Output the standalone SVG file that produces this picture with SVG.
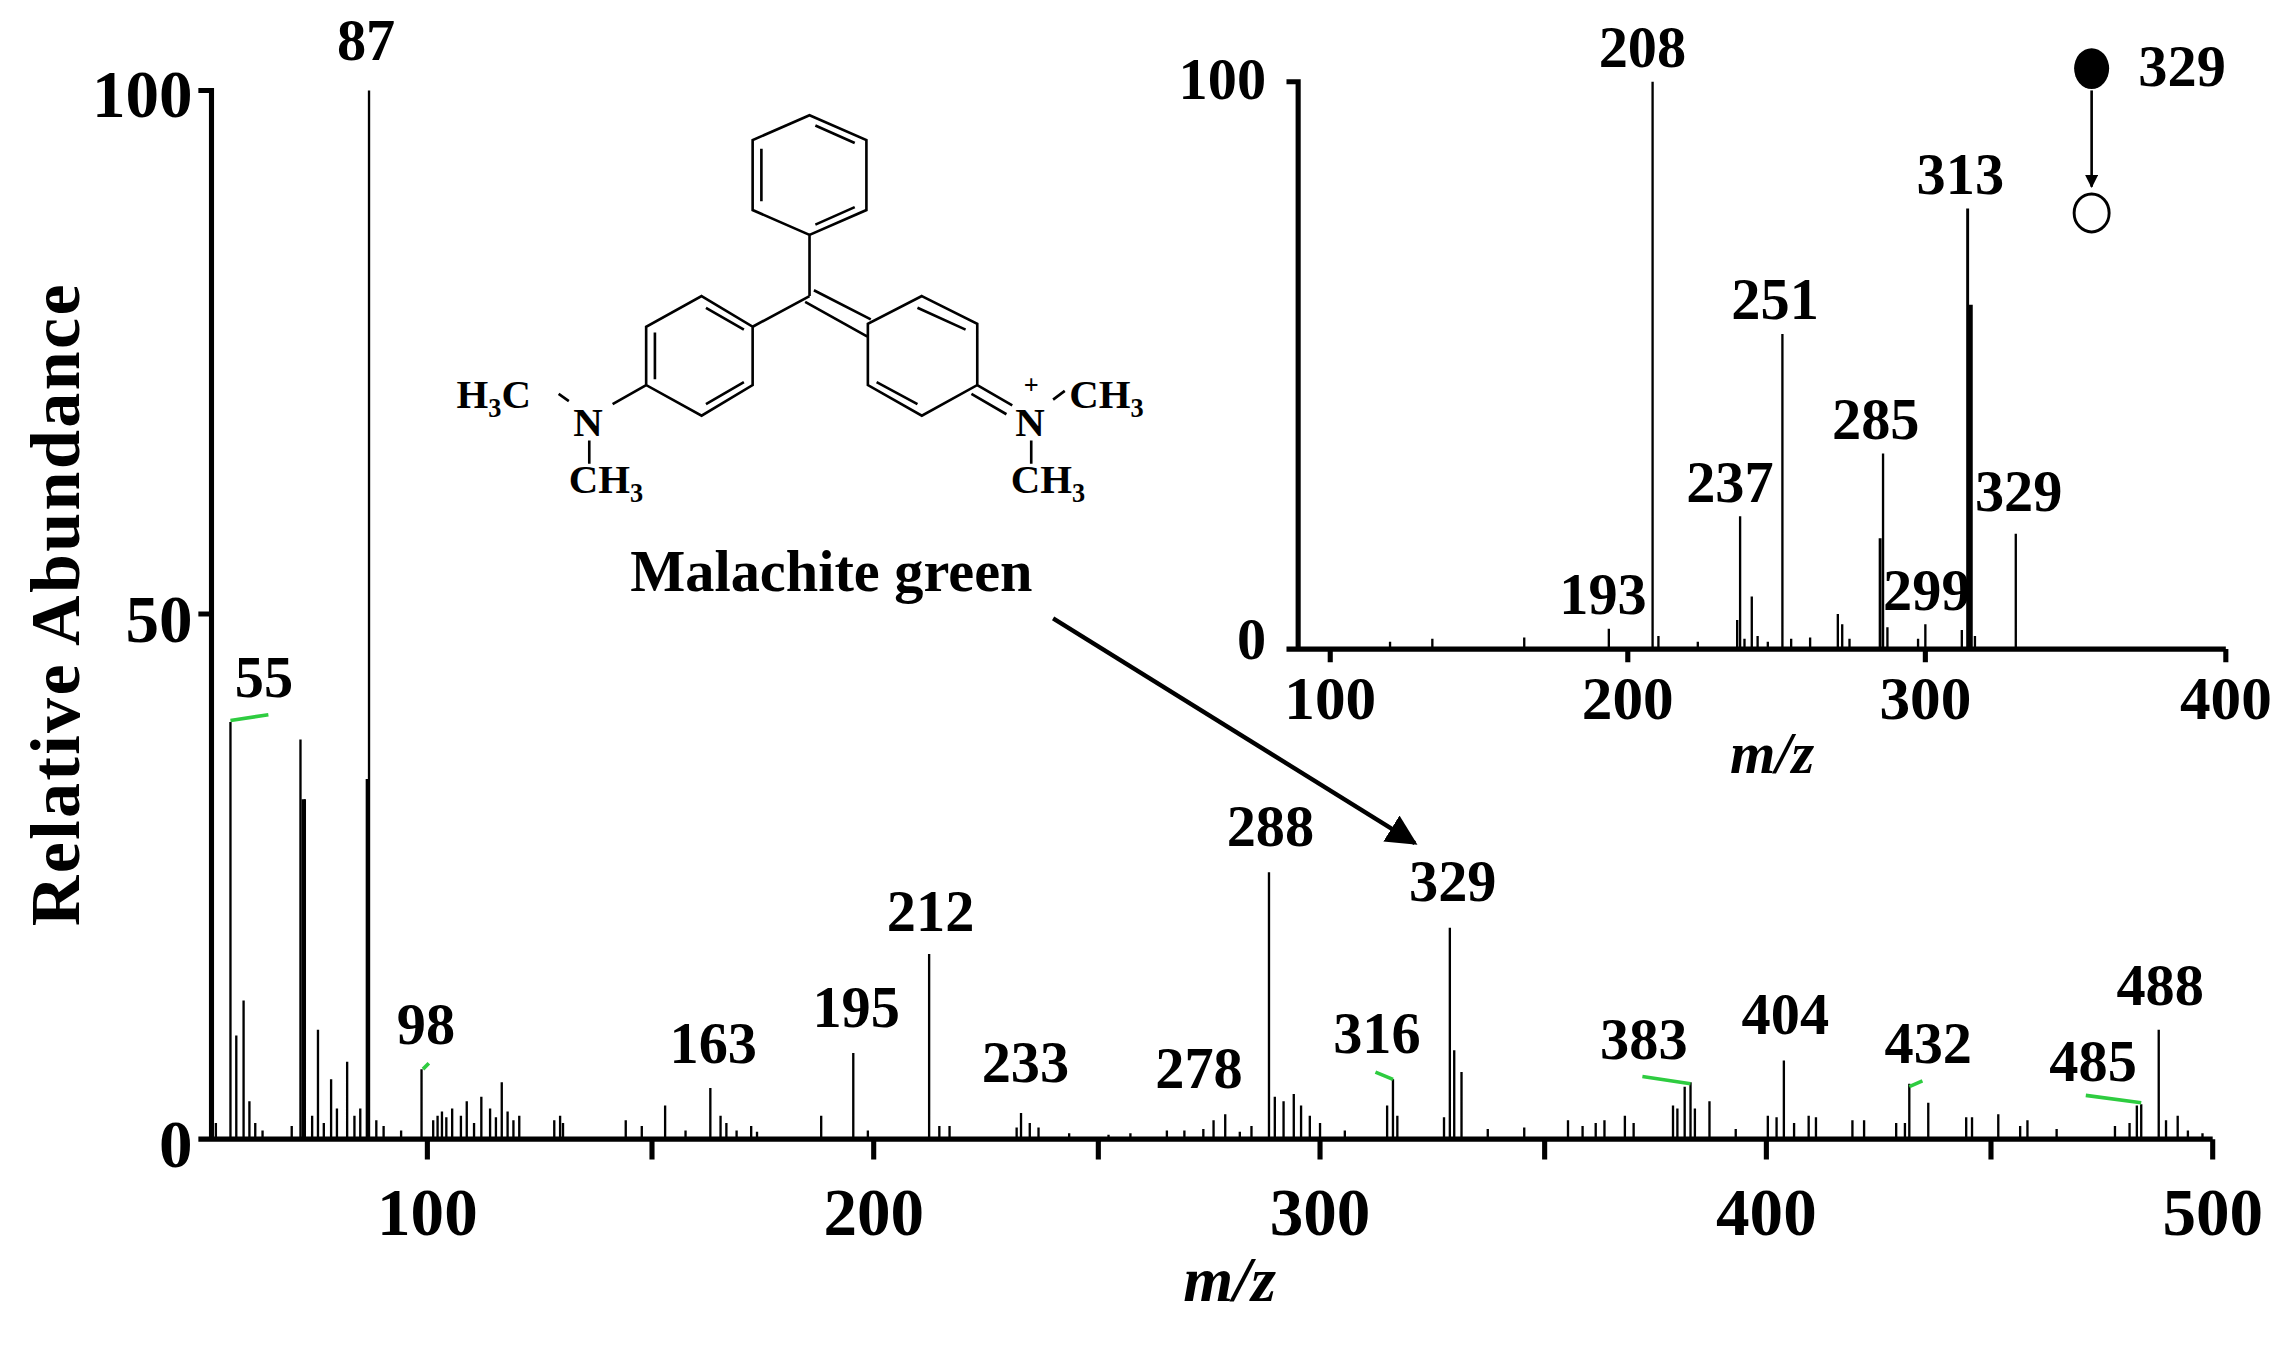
<svg xmlns="http://www.w3.org/2000/svg" width="2287" height="1348" viewBox="0 0 2287 1348">
<style>
text{font-family:"Liberation Serif","Times New Roman",serif;font-weight:bold;fill:#000}
.pk{font-size:40px;text-anchor:middle}
.tk{font-size:46px;text-anchor:middle}
.ax{fill:none;stroke:#000;stroke-width:3.5}
.bar{fill:none;stroke:#000;stroke-width:1.6}
.bond{fill:none;stroke:#000;stroke-width:1.8}
.grn{fill:none;stroke:#2ecc40;stroke-width:2.5}
.mol{font-size:28px}
.sub{font-size:18px}
</style>
<defs>
<marker id="ah" viewBox="0 0 10 10" refX="9" refY="5" markerWidth="7" markerHeight="7" orient="auto"><path d="M0,0 L10,5 L0,10 z" fill="#000"/></marker>
<marker id="ah2" viewBox="0 0 10 10" refX="9" refY="5" markerWidth="5" markerHeight="5" orient="auto"><path d="M0,0 L10,5 L0,10 z" fill="#000"/></marker>
</defs>
<rect width="2287" height="1348" fill="#fff"/>
<g transform="scale(1.4586)">
<g id="main-chart">
<path class="ax" d="M136,62 H145 V781 H1517 M136,421 H145 M136,781 H145 M293,781 V795 M447,781 V795 M599,781 V795 M753,781 V795 M905,781 V795 M1059,781 V795 M1211,781 V795 M1365,781 V795 M1517,781 V795"/>
<text x="132" y="80" style="font-size:46px;text-anchor:end">100</text>
<text x="132" y="440" style="font-size:46px;text-anchor:end">50</text>
<text x="132" y="800" style="font-size:46px;text-anchor:end">0</text>
<text class="tk" x="293" y="847">100</text>
<text class="tk" x="599" y="847">200</text>
<text class="tk" x="905" y="847">300</text>
<text class="tk" x="1211" y="847">400</text>
<text class="tk" x="1517" y="847">500</text>
<text x="843" y="892" style="font-size:44px;text-anchor:middle;font-style:italic">m/z</text>
<text transform="translate(54,415) rotate(-90)" style="font-size:48px;text-anchor:middle" textLength="440">Relative Abundance</text>
<path class="bar" d="M253,781V62 M158,781V495 M162,781V710 M167,781V686 M171,781V755 M206,781V507 M209,781V548 M218,781V706 M227,781V740 M238,781V728 M247,781V760 M289,781V733 M487,781V746 M585,781V722 M637,781V654 M700,781V763 M840,781V764 M870,781V598 M955,781V740 M994,781V636 M997,781V720 M1002,781V735 M1159,781V742 M1223,781V727 M1309,781V743 M1468,781V757 M1480,781V706
M148,781V770 M175,781V770 M180,781V775 M200,781V772 M214,781V765 M222,781V770 M231,781V760 M243,781V765 M258,781V768 M263,781V772 M275,781V775 M297,781V768 M300,781V765 M303,781V762 M306,781V766 M310,781V760 M316,781V765 M320,781V755 M325,781V770 M330,781V752 M336,781V760 M340,781V766 M344,781V742 M348,781V762 M352,781V768 M356,781V765 M380,781V768 M384,781V765 M386,781V770 M429,781V768 M440,781V772 M456,781V758 M470,781V775 M494,781V765 M498,781V770 M505,781V775 M515,781V772 M519,781V776 M563,781V765 M595,781V775 M644,781V772 M651,781V772 M697,781V773 M706,781V770 M712,781V773 M733,781V777 M760,781V778 M775,781V777 M800,781V775 M812,781V775 M825,781V774 M832,781V768 M850,781V776 M858,781V772 M874,781V752 M880,781V755 M887,781V750 M892,781V758 M898,781V765 M905,781V770 M922,781V775 M951,781V758 M958,781V765 M990,781V766 M1020,781V774 M1045,781V773 M1075,781V768 M1085,781V772 M1094,781V770 M1100,781V768 M1114,781V765 M1120,781V770 M1147,781V758 M1150,781V760 M1155,781V745 M1162,781V760 M1172,781V755 M1190,781V774 M1212,781V765 M1218,781V766 M1230,781V770 M1240,781V765 M1245,781V766 M1270,781V768 M1278,781V768 M1300,781V770 M1306,781V770 M1322,781V756 M1348,781V766 M1352,781V766 M1370,781V764 M1385,781V772 M1390,781V768 M1410,781V774 M1450,781V772 M1460,781V770 M1465,781V758 M1485,781V768 M1493,781V765 M1500,781V775 M1510,781V777"/>
<path d="M252,781V534 M208,781V548" stroke="#000" stroke-width="2.6"/>
<path class="grn" d="M158,494 L184,490 M290,733 L294,729 M943,735 L955,740 M1126,738 L1159,743 M1309,745 L1318,741 M1430,751 L1468,756"/>
<text class="pk" x="251" y="41">87</text>
<text class="pk" x="181" y="478">55</text>
<text class="pk" x="292" y="716">98</text>
<text class="pk" x="489" y="729">163</text>
<text class="pk" x="587" y="704">195</text>
<text class="pk" x="638" y="638">212</text>
<text class="pk" x="703" y="742">233</text>
<text class="pk" x="822" y="746">278</text>
<text class="pk" x="871" y="580">288</text>
<text class="pk" x="944" y="722">316</text>
<text class="pk" x="996" y="618">329</text>
<text class="pk" x="1127" y="726">383</text>
<text class="pk" x="1224" y="709">404</text>
<text class="pk" x="1322" y="729">432</text>
<text class="pk" x="1435" y="741">485</text>
<text class="pk" x="1481" y="689">488</text>
</g>
<g id="molecule">
<path class="bond" d="M555,79 L594,96 L594,144 L555,161 L516,144 L516,96 Z M522,102 L522,138 M559,86 L586,98 M559,154 L586,142 M555,161 L555,203 M555,203 L516,224 M481,203 L516,224 L516,264 L481,285 L443,264 L443,224 Z M449,228 L449,260 M484,211 L510,226 M484,277 L510,262 M558,199 L597,219 M552,207 L595,231 M632,203 L670,222 L670,264 L632,285 L595,264 L595,222 Z M629,211 L662,226 M601,262 L629,277 M443,264 L420,277 M383,270 L390,275 M404,302 L404,318 M670,264 L694,278 M666,270 L690,284 M707,302 L707,318 M722,274 L730,268"/>
<text class="mol" x="313" y="280">H<tspan class="sub" dy="6">3</tspan><tspan dy="-6">C</tspan></text>
<text class="mol" x="393" y="299">N</text>
<text class="mol" x="390" y="338">CH<tspan class="sub" dy="6">3</tspan></text>
<text class="mol" x="696" y="299">N</text>
<text x="707" y="270" style="font-size:18px;text-anchor:middle">+</text>
<text class="mol" x="733" y="280">CH<tspan class="sub" dy="6">3</tspan></text>
<text class="mol" x="693" y="338">CH<tspan class="sub" dy="6">3</tspan></text>
<text x="570" y="405" style="font-size:40px;text-anchor:middle">Malachite green</text>
</g>
<g id="inset-chart">
<path class="ax" d="M882,56 H890 V445 H1526 M882,445 H890 M912,445 V454 M1116,445 V454 M1320,445 V454 M1526,445 V454"/>
<text x="868" y="68" style="font-size:40px;text-anchor:end">100</text>
<text x="868" y="452" style="font-size:40px;text-anchor:end">0</text>
<text class="tk" x="912" y="493" style="font-size:42px">100</text>
<text class="tk" x="1116" y="493" style="font-size:42px">200</text>
<text class="tk" x="1320" y="493" style="font-size:42px">300</text>
<text class="tk" x="1526" y="493" style="font-size:42px">400</text>
<text x="1215" y="530" style="font-size:40px;text-anchor:middle;font-style:italic">m/z</text>
<path class="bar" d="M1133,445V56 M1193,445V354 M1201,445V409 M1222,445V229 M1291,445V311 M1382,445V366 M1103,445V431 M1320,445V428 M1260,445V421 M1263,445V428
M953,445V440 M982,445V438 M1045,445V437 M1137,445V436 M1164,445V440 M1191,445V425 M1196,445V438 M1205,445V436 M1212,445V440 M1228,445V438 M1241,445V437 M1268,445V438 M1294,445V430 M1315,445V438 M1345,445V432 M1354,445V436"/>
<path d="M1289,445V369 M1349,445V143" stroke="#000" stroke-width="2"/>
<path d="M1351,445V209" stroke="#000" stroke-width="3"/>
<text class="pk" x="1126" y="46">208</text>
<text class="pk" x="1217" y="219">251</text>
<text class="pk" x="1344" y="133">313</text>
<text class="pk" x="1286" y="301">285</text>
<text class="pk" x="1186" y="344">237</text>
<text class="pk" x="1384" y="350">329</text>
<text class="pk" x="1099" y="421">193</text>
<text class="pk" x="1321" y="418">299</text>
</g>
<g id="legend">
<ellipse cx="1434" cy="47" rx="12" ry="14" fill="#000"/>
<text x="1466" y="59" style="font-size:40px">329</text>
<ellipse cx="1434" cy="146" rx="12" ry="13" fill="#fff" stroke="#000" stroke-width="2"/>
</g>
<g id="connectors">
<line x1="1434" y1="62" x2="1434" y2="128" stroke="#000" stroke-width="1.8" marker-end="url(#ah2)"/>
<line x1="722" y1="424" x2="970" y2="578" stroke="#000" stroke-width="3" marker-end="url(#ah)"/>
</g>
</g>
</svg>
